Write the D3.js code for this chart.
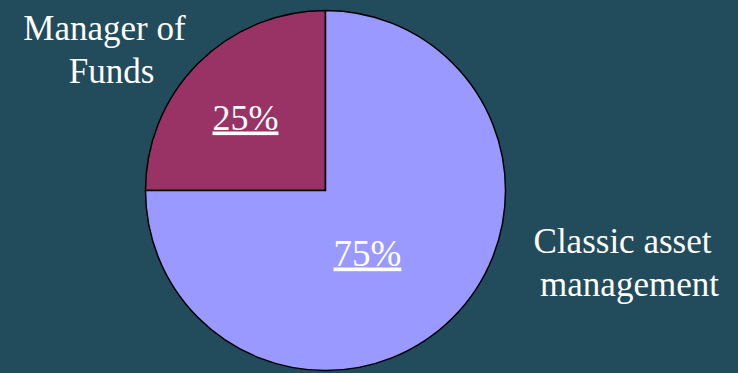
<!DOCTYPE html>
<html>
<head>
<meta charset="utf-8">
<script src="https://cdn.jsdelivr.net/npm/d3@7"></script>
<style>
  html, body { margin: 0; padding: 0; background: #224b5b; }
</style>
</head>
<body>
<div id="chart"></div>
<script>
// chart data
var categories = ['Manager of Funds', 'Classic asset management'];
var values = [25, 75];
var colors = ['#993366', '#9999ff'];
var labelLines = [['Manager of', 'Funds'], ['Classic asset', 'management']];

var width = 738, height = 373;
var cx = 325.5, cy = 190.5, radius = 180;
var serif = '"Liberation Serif"';

var svg = d3.select('#chart').append('svg')
  .attr('width', width)
  .attr('height', height);

svg.append('rect')
  .attr('width', width)
  .attr('height', height)
  .attr('fill', '#224b5b');

var g = svg.append('g')
  .attr('transform', 'translate(' + cx + ',' + cy + ')');

var pie = d3.pie()
  .sort(null)
  .value(function (d) { return d; })
  .startAngle(-Math.PI / 2)
  .endAngle(Math.PI * 1.5);

var arcs = pie(values);
var arc = d3.arc().innerRadius(0).outerRadius(radius);

g.selectAll('path.slice')
  .data(arcs)
  .enter().append('path')
  .attr('class', 'slice')
  .attr('d', arc)
  .attr('fill', function (d, i) { return colors[i]; })
  .attr('stroke', '#000')
  .attr('stroke-width', 1.5);

// percentage labels (offsets from pie centre, placed like the original)
var pctPos = [[-80, -61], [42, 75]];
var total = d3.sum(values);
g.selectAll('text.pct')
  .data(arcs)
  .enter().append('text')
  .attr('class', 'pct')
  .attr('x', function (d, i) { return pctPos[i][0]; })
  .attr('y', function (d, i) { return pctPos[i][1]; })
  .attr('text-anchor', 'middle')
  .attr('fill', '#fff')
  .style('font-family', serif)
  .style('font-size', function (d, i) { return i === 0 ? '36px' : '37px'; })
  .style('text-decoration', 'underline')
  .text(function (d) { return Math.round(d.value / total * 100) + '%'; });

// category labels outside the pie
var outerPos = [[-221, -151], [297, 62]];
var lineShift = [[0, 7], [0, 7]];
var lab = g.selectAll('text.cat')
  .data(arcs)
  .enter().append('text')
  .attr('class', 'cat')
  .attr('text-anchor', 'middle')
  .attr('fill', '#fff')
  .style('font-family', serif)
  .style('font-size', '35px')
  .attr('x', function (d, i) { return outerPos[i][0]; })
  .attr('y', function (d, i) { return outerPos[i][1]; });

lab.selectAll('tspan')
  .data(function (d, i) { return labelLines[i].map(function (t, j) { return { t: t, i: i, j: j }; }); })
  .enter().append('tspan')
  .attr('x', function (d) { return outerPos[d.i][0] + lineShift[d.i][d.j]; })
  .attr('dy', function (d) { return d.j === 0 ? 0 : 43; })
  .text(function (d) { return d.t; });
</script>
</body>
</html>
